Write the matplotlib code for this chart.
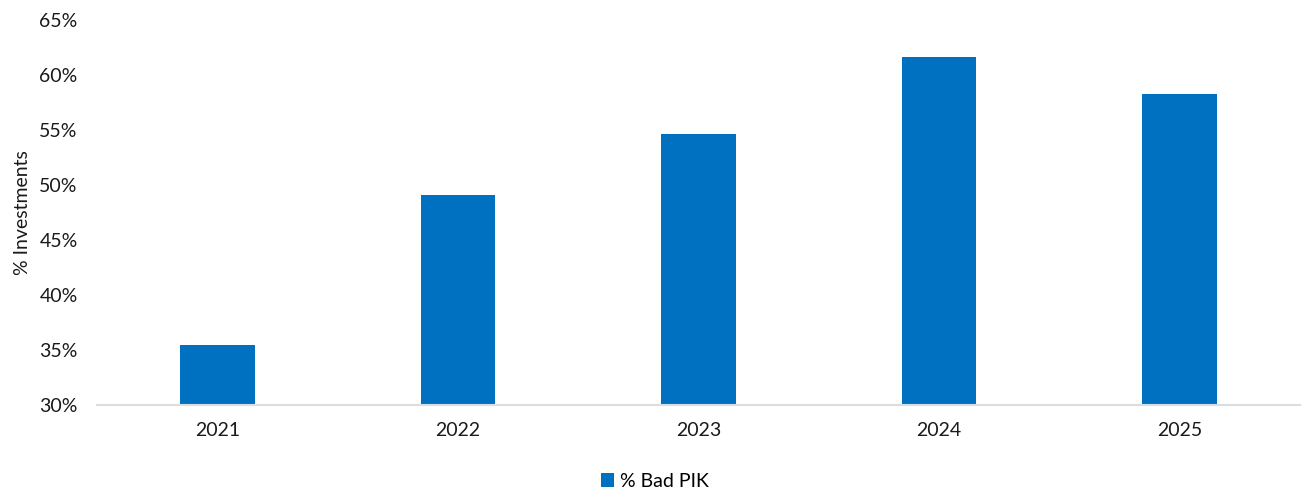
import matplotlib.pyplot as plt
from matplotlib.ticker import FuncFormatter

anos = ['2021', '2022', '2023', '2024', '2025']
bad_pik = [35.45, 49.1, 54.6, 61.6, 58.3]
yticks = [30, 35, 40, 45, 50, 55, 60, 65]

plt.rcParams['font.family'] = ['Lato', 'DejaVu Sans']

fig, ax = plt.subplots(figsize=(13.02, 4.94), dpi=100)
fig.subplots_adjust(left=0.0745, right=0.9985, top=0.96, bottom=0.18)

x = range(len(anos))
ax.bar(x, bad_pik, width=0.31, color='#0070C0', label='% Bad PIK', zorder=2)

ax.set_xlim(-0.5, len(anos) - 0.5)
ax.set_ylim(30, 65)
ax.set_yticks(yticks)
ax.yaxis.set_major_formatter(FuncFormatter(lambda v, p: f'{v:.0f}%'))
ax.set_xticks(list(x))
ax.set_xticklabels(anos)

ax.tick_params(axis='both', length=0, labelsize=14, colors='#1a1a1a')
ax.tick_params(axis='x', pad=12)
ax.tick_params(axis='y', pad=14)

for s in ['top', 'right', 'left']:
    ax.spines[s].set_visible(False)
ax.spines['bottom'].set_color('#D9DEE3')
ax.spines['bottom'].set_linewidth(1.5)

ax.set_ylabel('% Investments', fontsize=14, color='#1a1a1a', labelpad=6)

fig.legend(loc='center', bbox_to_anchor=(0.503, 0.026), frameon=False,
           fontsize=14, handlelength=0.7, handleheight=0.7, handletextpad=0.3,
           borderpad=0)

fig.savefig('out.png', dpi=100)
